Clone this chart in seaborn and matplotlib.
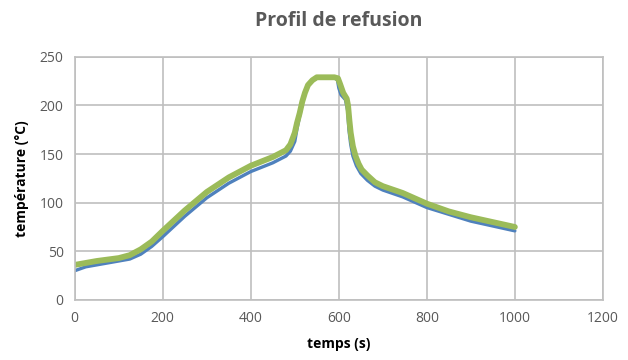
import pandas as pd
import matplotlib
matplotlib.use("Agg")
import matplotlib.pyplot as plt
import seaborn as sns

# valeurs (temps en s, température en °C)
temps_bleu = [0, 25, 50, 100, 125, 150, 175, 200, 250, 300, 350, 400, 450, 480, 490,
              500, 505, 511, 517, 523, 530, 540, 550, 590, 597, 600, 605, 615, 620, 623,
              627, 632, 640, 650, 665, 682, 700, 745, 800, 850, 900, 950, 1000]
temp_bleu = [30, 34, 36, 40, 42, 47, 55, 65, 86, 105, 120, 132, 141, 148, 153,
             163, 176, 189, 202, 212, 220, 226, 228, 229, 226, 218, 211, 206, 195, 175,
             160, 148, 138, 130, 123, 117, 113, 106, 95, 88, 81, 76, 71]

temps_vert = [0, 25, 50, 100, 125, 150, 175, 200, 250, 300, 350, 400, 450, 480, 490,
              500, 505, 511, 517, 523, 530, 540, 550, 590, 598, 603, 610, 618, 621, 624,
              627, 632, 638, 645, 652, 665, 682, 700, 745, 800, 850, 900, 950, 1000]
temp_vert = [36, 38, 40, 43, 46, 52, 60, 71, 92, 111, 126, 138, 147, 154, 160,
             172, 182, 192, 204, 213, 221, 226, 229, 229, 228, 222, 213, 207, 200, 185,
             172, 158, 148, 140, 134, 128, 121, 117, 110, 99, 91, 85, 80, 75]

df_bleu = pd.DataFrame({"temps": temps_bleu, "temp": temp_bleu})
df_vert = pd.DataFrame({"temps": temps_vert, "temp": temp_vert})

sns.set_style("white")
plt.rcParams["font.family"] = ["Open Sans", "DejaVu Sans"]

fig = plt.figure(figsize=(6.28, 3.6), dpi=100)
ax = fig.add_axes([0.119, 0.167, 0.841, 0.675])

sns.lineplot(data=df_bleu, x="temps", y="temp", color="#4F81BD", linewidth=2.4, ax=ax)
sns.lineplot(data=df_vert, x="temps", y="temp", color="#9BBB59", linewidth=4.2, ax=ax)

ax.set_xlim(0, 1200)
ax.set_ylim(0, 250)
ax.set_xticks(range(0, 1201, 200))
ax.set_yticks(range(0, 251, 50))
ax.grid(True, color="#BFBFBF", linewidth=1.2)
ax.set_axisbelow(True)
for s in ax.spines.values():
    s.set_color("#BFBFBF")
    s.set_linewidth(1.2)
ax.tick_params(length=0, labelsize=10, labelcolor="#595959", pad=8)

ax.set_title("Profil de refusion", fontsize=14, fontweight="bold", color="#595959", pad=22)
ax.set_xlabel("temps (s)", fontsize=10, fontweight="bold", color="#000000", labelpad=8)
ax.set_ylabel("température (°C)", fontsize=10, fontweight="bold", color="#000000", labelpad=8)

fig.savefig("out.png", dpi=100)
